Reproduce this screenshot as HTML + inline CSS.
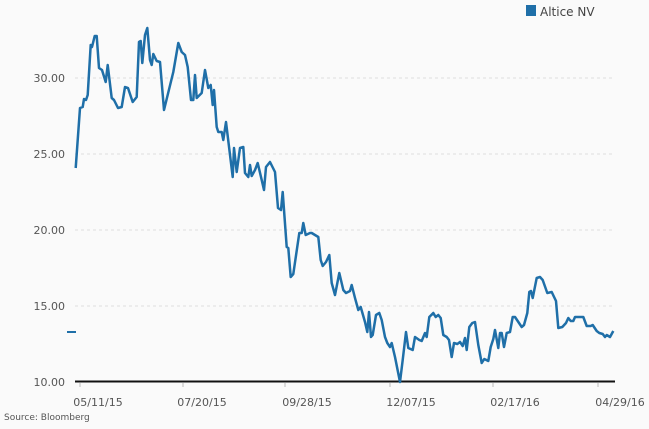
<!DOCTYPE html>
<html><head><meta charset="utf-8"><style>
body{margin:0;background:#fafafa;}
svg{display:block;font-family:"DejaVu Sans","Liberation Sans",sans-serif;}
</style></head><body>
<svg width="649" height="429" viewBox="0 0 649 429">
<rect width="649" height="429" fill="#fafafa"/>
<g stroke="#ddd" stroke-dasharray="3,3" stroke-width="1">
<line x1="75" y1="78" x2="615" y2="78"/>
<line x1="75" y1="154" x2="615" y2="154"/>
<line x1="75" y1="230" x2="615" y2="230"/>
<line x1="75" y1="306" x2="615" y2="306"/>
</g>
<g fill="#555" font-size="11" text-anchor="end">
<text x="65" y="82">30.00</text>
<text x="65" y="158">25.00</text>
<text x="65" y="234">20.00</text>
<text x="65" y="310">15.00</text>
<text x="65" y="386">10.00</text>
</g>
<line x1="75" y1="381.5" x2="615" y2="381.5" stroke="#111" stroke-width="2"/>
<g stroke="#bbb"><line x1="80" y1="383" x2="80" y2="387"/><line x1="183" y1="383" x2="183" y2="387"/><line x1="285" y1="383" x2="285" y2="387"/><line x1="390" y1="383" x2="390" y2="387"/><line x1="493" y1="383" x2="493" y2="387"/><line x1="598" y1="383" x2="598" y2="387"/></g>
<g fill="#555" font-size="11" text-anchor="middle">
<text x="98" y="406">05/11/15</text>
<text x="202" y="406">07/20/15</text>
<text x="307" y="406">09/28/15</text>
<text x="411" y="406">12/07/15</text>
<text x="515" y="406">02/17/16</text>
<text x="620" y="406">04/29/16</text>
</g>
<text x="4" y="420" fill="#555" font-size="9">Source: Bloomberg</text>
<rect x="526" y="5" width="10" height="11" fill="#1f6fa8"/>
<text x="540" y="16" fill="#444" font-size="12">Altice NV</text>
<line x1="67" y1="332" x2="76" y2="332" stroke="#1f6fa8" stroke-width="2"/>
<polyline fill="none" stroke="#1f6fa8" stroke-width="2.5" stroke-linejoin="round" points="75.7,168 80,108 82.7,107 84,99 86,100 87.7,95 90.7,45 92,47 94.7,36 96.7,36 99,68 102,70 105.7,82 107.7,65 111.7,98 114,100 118,108 121.7,107 125,87 128,88 132.7,102 136.7,97 139,42 140.7,41 142.3,63 145,35 147.3,28 150,60 151.7,65 153.3,54 156.7,61 160,62 164,110 173.3,72 178.3,43 181.7,52 185,55 187.7,67 191,100 193.3,100 195,75 196.7,98 201.7,93 205,70 208.3,88 210.7,85 212.7,105 214,90 216.7,127 218.3,132 221.7,132 223.3,140 226,122 232.7,177 234,148 236.7,172 240,148 243.3,147 245,173 248.3,177 250,165 251.7,176 255,170 257.7,163 261.7,180 264,190 266,167 270,162 275,172 278,208 281,210 282.7,192 286.7,247 288.3,248 290.7,277 293.3,274 299.3,233 301.7,233 303.3,223 305.7,235 310,233 311.7,233 315,235 318.3,237 320.7,260 322.7,266 326,262 329.3,255 331.7,283 335,295 339.3,273 343.3,290 346,293 350,291 351.7,285 355,298 358.3,310 360.7,307 365,322 367.3,332 369,312 371,337 372.7,335 376,315 379.3,313 381.7,320 385,337 387.3,343 390,347 391.7,343 395,357 400,382 402.7,360 406,332 408.3,348 412.7,350 415,337 419.3,340 421.7,341 425,333 426.7,337 429.3,317 433.3,313 435.7,317 438.3,315 440.7,318 443.3,335 446.7,337 449,340 451.7,357 454,343 457.3,344 460,342 462.7,346 465,338 466.7,350 469.3,327 472.3,323 475,322 478.3,345 481.7,363 484.3,359 488.3,361 490.7,347 493.3,339 495,330 498.3,348 500,333 501.7,333 504,347 506.7,333 510,332 512.7,317 515,317 521.7,327 524,325 527.3,313 529.3,292 531,291 532.7,298 536.7,278 540,277 542.7,280 547.3,293 551.7,292 556,301 558.3,328 562.3,327 566,323 568.3,318 570.7,321 573.3,321 575,317 583.3,317 586.7,326 590.7,326 592.7,325 596.7,331 599.3,333 602.7,334 605,337 606.7,335 610,337 613.3,331"/>
</svg>
</body></html>
